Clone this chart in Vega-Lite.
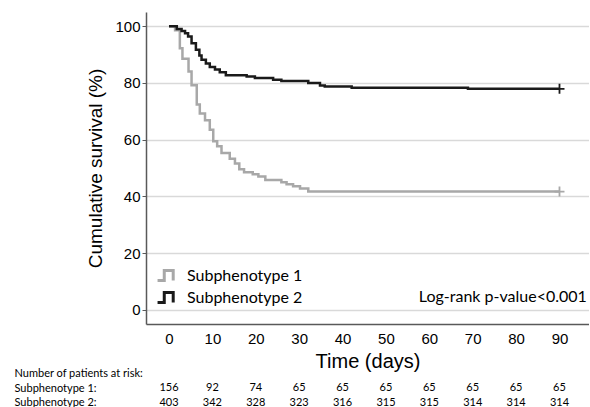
{
  "$schema": "https://vega.github.io/schema/vega-lite/v6.json",
  "padding": {"left": 14, "top": 12, "right": 0, "bottom": 0},
  "background": "white",
  "config": {"view": {"stroke": null}},
  "bounds": "flush",
  "spacing": 42,
  "resolve": {"scale": {"color": "independent", "stroke": "independent"}, "legend": {"color": "independent", "stroke": "independent"}},
  "datasets": {
    "km": [
      {"group": "Subphenotype 1", "day": 0, "surv": 100},
      {"group": "Subphenotype 1", "day": 1.4, "surv": 98.6},
      {"group": "Subphenotype 1", "day": 2.5, "surv": 92.2},
      {"group": "Subphenotype 1", "day": 3.1, "surv": 88.5},
      {"group": "Subphenotype 1", "day": 4.5, "surv": 84.0},
      {"group": "Subphenotype 1", "day": 5.2, "surv": 79.2},
      {"group": "Subphenotype 1", "day": 6.4, "surv": 72.4},
      {"group": "Subphenotype 1", "day": 7.1, "surv": 69.2},
      {"group": "Subphenotype 1", "day": 8.3, "surv": 66.8},
      {"group": "Subphenotype 1", "day": 9.4, "surv": 63.5},
      {"group": "Subphenotype 1", "day": 10.2, "surv": 59.4},
      {"group": "Subphenotype 1", "day": 11.1, "surv": 57.7},
      {"group": "Subphenotype 1", "day": 12.1, "surv": 55.3},
      {"group": "Subphenotype 1", "day": 14.0, "surv": 53.3},
      {"group": "Subphenotype 1", "day": 15.2, "surv": 51.6},
      {"group": "Subphenotype 1", "day": 16.2, "surv": 49.6},
      {"group": "Subphenotype 1", "day": 17.3, "surv": 48.5},
      {"group": "Subphenotype 1", "day": 19.3, "surv": 47.8},
      {"group": "Subphenotype 1", "day": 20.6, "surv": 47.0},
      {"group": "Subphenotype 1", "day": 22.2, "surv": 45.8},
      {"group": "Subphenotype 1", "day": 25.9, "surv": 45.0},
      {"group": "Subphenotype 1", "day": 27.1, "surv": 44.3},
      {"group": "Subphenotype 1", "day": 28.6, "surv": 43.6},
      {"group": "Subphenotype 1", "day": 30.2, "surv": 42.8},
      {"group": "Subphenotype 1", "day": 32.1, "surv": 41.7},
      {"group": "Subphenotype 1", "day": 90, "surv": 41.7},
      {"group": "Subphenotype 2", "day": 0, "surv": 100},
      {"group": "Subphenotype 2", "day": 1.8, "surv": 99.0},
      {"group": "Subphenotype 2", "day": 2.9, "surv": 98.3},
      {"group": "Subphenotype 2", "day": 3.7, "surv": 97.5},
      {"group": "Subphenotype 2", "day": 4.4, "surv": 96.4},
      {"group": "Subphenotype 2", "day": 5.2, "surv": 94.0},
      {"group": "Subphenotype 2", "day": 6.2, "surv": 91.7},
      {"group": "Subphenotype 2", "day": 7.0, "surv": 89.7},
      {"group": "Subphenotype 2", "day": 7.5, "surv": 88.2},
      {"group": "Subphenotype 2", "day": 8.5, "surv": 86.8},
      {"group": "Subphenotype 2", "day": 9.4, "surv": 85.6},
      {"group": "Subphenotype 2", "day": 10.6, "surv": 84.7},
      {"group": "Subphenotype 2", "day": 11.7, "surv": 83.8},
      {"group": "Subphenotype 2", "day": 13.1, "surv": 82.7},
      {"group": "Subphenotype 2", "day": 17.9, "surv": 82.3},
      {"group": "Subphenotype 2", "day": 19.8, "surv": 81.7},
      {"group": "Subphenotype 2", "day": 24.0, "surv": 81.1},
      {"group": "Subphenotype 2", "day": 25.9, "surv": 80.7},
      {"group": "Subphenotype 2", "day": 32.1, "surv": 80.0},
      {"group": "Subphenotype 2", "day": 34.8, "surv": 79.1},
      {"group": "Subphenotype 2", "day": 35.9, "surv": 78.7},
      {"group": "Subphenotype 2", "day": 42.1, "surv": 78.3},
      {"group": "Subphenotype 2", "day": 68.9, "surv": 77.9},
      {"group": "Subphenotype 2", "day": 90, "surv": 77.9}
    ],
    "censor": [
      {"group": "Subphenotype 1", "day": 90, "surv": 41.7},
      {"group": "Subphenotype 2", "day": 90, "surv": 77.9}
    ],
    "note": [
      {"label": "Log-rank p-value<0.001", "day": 96.3, "surv": 4.6}
    ],
    "risk": [
      {"row": "Subphenotype 1:", "day": 0, "n": 156},
      {"row": "Subphenotype 1:", "day": 10, "n": 92},
      {"row": "Subphenotype 1:", "day": 20, "n": 74},
      {"row": "Subphenotype 1:", "day": 30, "n": 65},
      {"row": "Subphenotype 1:", "day": 40, "n": 65},
      {"row": "Subphenotype 1:", "day": 50, "n": 65},
      {"row": "Subphenotype 1:", "day": 60, "n": 65},
      {"row": "Subphenotype 1:", "day": 70, "n": 65},
      {"row": "Subphenotype 1:", "day": 80, "n": 65},
      {"row": "Subphenotype 1:", "day": 90, "n": 65},
      {"row": "Subphenotype 2:", "day": 0, "n": 403},
      {"row": "Subphenotype 2:", "day": 10, "n": 342},
      {"row": "Subphenotype 2:", "day": 20, "n": 328},
      {"row": "Subphenotype 2:", "day": 30, "n": 323},
      {"row": "Subphenotype 2:", "day": 40, "n": 316},
      {"row": "Subphenotype 2:", "day": 50, "n": 315},
      {"row": "Subphenotype 2:", "day": 60, "n": 315},
      {"row": "Subphenotype 2:", "day": 70, "n": 314},
      {"row": "Subphenotype 2:", "day": 80, "n": 314},
      {"row": "Subphenotype 2:", "day": 90, "n": 314}
    ]
  },
  "vconcat": [
    {
      "width": 443,
      "height": 312,
      "layer": [
        {
          "data": {"name": "km"},
          "mark": {"type": "line", "interpolate": "step-after", "strokeWidth": 2.5},
          "encoding": {
            "x": {
              "field": "day", "type": "quantitative",
              "scale": {"domain": [-5.3, 96.8], "nice": false, "zero": false},
              "axis": {
                "title": "Time (days)", "values": [0, 10, 20, 30, 40, 50, 60, 70, 80, 90],
                "grid": false, "ticks": false, "domainColor": "#595959", "domainWidth": 1.5,
                "labelFont": "Liberation Sans", "labelFontSize": 15, "labelColor": "black", "labelPadding": 7,
                "titleFont": "Liberation Sans", "titleFontSize": 20, "titleFontWeight": "normal", "titleColor": "black", "titlePadding": 5
              }
            },
            "y": {
              "field": "surv", "type": "quantitative",
              "scale": {"domain": [-5, 105], "nice": false, "zero": false},
              "axis": {
                "title": "Cumulative survival (%)", "values": [0, 20, 40, 60, 80, 100],
                "grid": true, "gridColor": "#d9d9d9", "gridWidth": 1.5,
                "domainColor": "#595959", "domainWidth": 1.5, "tickColor": "#595959", "tickSize": 4,
                "labelFont": "Liberation Sans", "labelFontSize": 15, "labelColor": "black", "labelPadding": 2,
                "titleFont": "Liberation Sans", "titleFontSize": 19, "titleFontWeight": "normal", "titleColor": "black", "titlePadding": 9
              }
            },
            "color": {
              "field": "group", "type": "nominal",
              "scale": {"domain": ["Subphenotype 1", "Subphenotype 2"], "range": ["#a8a8a8", "#1a1a1a"]},
              "legend": {
                "orient": "none", "legendX": 10, "legendY": 253, "title": null, "padding": 0,
                "symbolType": "M -1 0.55 L -0.25 0.55 L -0.25 -0.55 L 0.75 -0.55 L 0.75 0.55",
                "symbolSize": 320, "symbolStrokeWidth": 3, "symbolFillColor": "transparent",
                "labelFont": "Lato", "labelFontSize": 16, "labelColor": "black", "labelOffset": 10, "rowPadding": -1
              }
            }
          }
        },
        {
          "data": {"name": "censor"},
          "mark": {"type": "point", "shape": "M -1 0 L 1 0 M 0 -1 L 0 1", "size": 100, "strokeWidth": 1.8, "filled": false, "opacity": 1},
          "encoding": {
            "x": {"field": "day", "type": "quantitative"},
            "y": {"field": "surv", "type": "quantitative"},
            "stroke": {
              "field": "group", "type": "nominal",
              "scale": {"domain": ["Subphenotype 1", "Subphenotype 2"], "range": ["#a8a8a8", "#1a1a1a"]},
              "legend": null
            }
          }
        },
        {
          "data": {"name": "note"},
          "mark": {"type": "text", "align": "right", "baseline": "middle", "font": "Lato", "fontSize": 16, "color": "black"},
          "encoding": {
            "x": {"field": "day", "type": "quantitative"},
            "y": {"field": "surv", "type": "quantitative"},
            "text": {"field": "label", "type": "nominal"}
          }
        }
      ]
    },
    {
      "width": 443,
      "height": 44,
      "data": {"name": "risk"},
      "mark": {"type": "text", "font": "Lato", "fontSize": 11, "color": "black", "align": "center", "baseline": "middle"},
      "encoding": {
        "x": {"field": "day", "type": "quantitative", "scale": {"domain": [-5.3, 96.8], "nice": false, "zero": false}, "axis": null},
        "y": {
          "field": "row", "type": "nominal",
          "scale": {"domain": ["Number of patients at risk:", "Subphenotype 1:", "Subphenotype 2:"], "paddingInner": 0, "paddingOuter": 0},
          "axis": {"title": null, "domain": false, "ticks": false, "tickSize": 0, "labelAlign": "left", "labelPadding": 132, "labelFont": "Lato", "labelFontSize": 11, "labelColor": "black", "labelLimit": 200}
        },
        "text": {"field": "n", "type": "quantitative"}
      }
    }
  ]
}
